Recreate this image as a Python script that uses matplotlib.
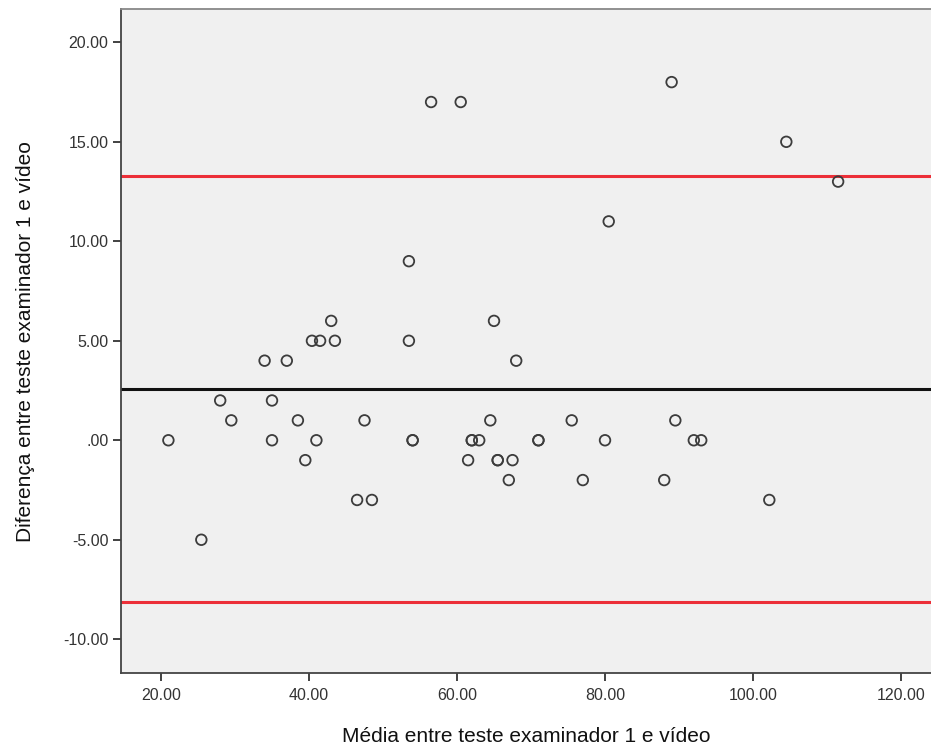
import matplotlib
matplotlib.use("Agg")
import matplotlib.pyplot as plt
from matplotlib.ticker import FuncFormatter

plt.rcParams['font.family'] = ['Liberation Sans', 'DejaVu Sans']

# Data (mean of the two measurements, difference)
media = [21.0, 25.45, 28.0, 29.5, 34.0, 35.0, 35.0, 37.0, 38.5, 39.5,
         40.4, 41.0, 41.5, 43.0, 43.5, 46.5, 47.5, 48.5, 53.5, 53.5,
         54.0, 54.0, 56.5, 60.5, 61.5, 62.0, 62.0, 63.0, 64.5, 65.0,
         65.5, 65.5, 67.0, 67.5, 68.0, 71.0, 71.0, 75.5, 77.0, 80.0,
         80.5, 88.0, 89.0, 89.5, 92.0, 93.0, 102.2, 104.5, 111.5]
diferenca = [0, -5, 2, 1, 4, 2, 0, 4, 1, -1,
             5, 0, 5, 6, 5, -3, 1, -3, 9, 5,
             0, 0, 17, 17, -1, 0, 0, 0, 1, 6,
             -1, -1, -2, -1, 4, 0, 0, 1, -2, 0,
             11, -2, 18, 1, 0, 0, -3, 15, 13]

media_dif = 2.58
limite_sup = 13.28
limite_inf = -8.14

x_ticks = [20, 40, 60, 80, 100, 120]
y_ticks = [-10, -5, 0, 5, 10, 15, 20]

fig = plt.figure(figsize=(9.31, 7.47), dpi=100)
ax = fig.add_axes([0.130, 0.0995, 0.870, 0.8878])
ax.set_facecolor('#f0f0f0')

ax.axhline(limite_sup, color='#ec2f38', lw=2.2, zorder=2)
ax.axhline(limite_inf, color='#ec2f38', lw=2.2, zorder=2)
ax.axhline(media_dif, color='#111111', lw=2.2, zorder=2)

ax.scatter(media, diferenca, s=58, facecolors='none', edgecolors='#3c3c3c',
           linewidths=1.3, zorder=3)

ax.set_xlim(14.6, 124.05)
ax.set_ylim(-11.68, 21.65)
ax.set_xticks(x_ticks)
ax.set_yticks(y_ticks)

def fmt(v, pos):
    s = f"{v:.2f}"
    if s == "0.00":
        return ".00"
    return s

ax.xaxis.set_major_formatter(FuncFormatter(fmt))
ax.yaxis.set_major_formatter(FuncFormatter(fmt))

ax.tick_params(axis='both', direction='out', length=6, width=1.3,
               color='#333333', labelsize=11.5, labelcolor='#333333', pad=3)
ax.tick_params(axis='x', pad=5)

for side in ['left', 'bottom']:
    ax.spines[side].set_color('#444444')
    ax.spines[side].set_linewidth(1.3)
ax.spines['top'].set_color('#888888')
ax.spines['top'].set_linewidth(1.3)
ax.spines['right'].set_visible(False)

ax.set_xlabel('Média entre teste examinador 1 e vídeo', fontsize=15,
              color='#111111', labelpad=17)
ax.set_ylabel('Diferença entre teste examinador 1 e vídeo', fontsize=15,
              color='#111111', labelpad=20)

fig.savefig('out.png', dpi=100)
